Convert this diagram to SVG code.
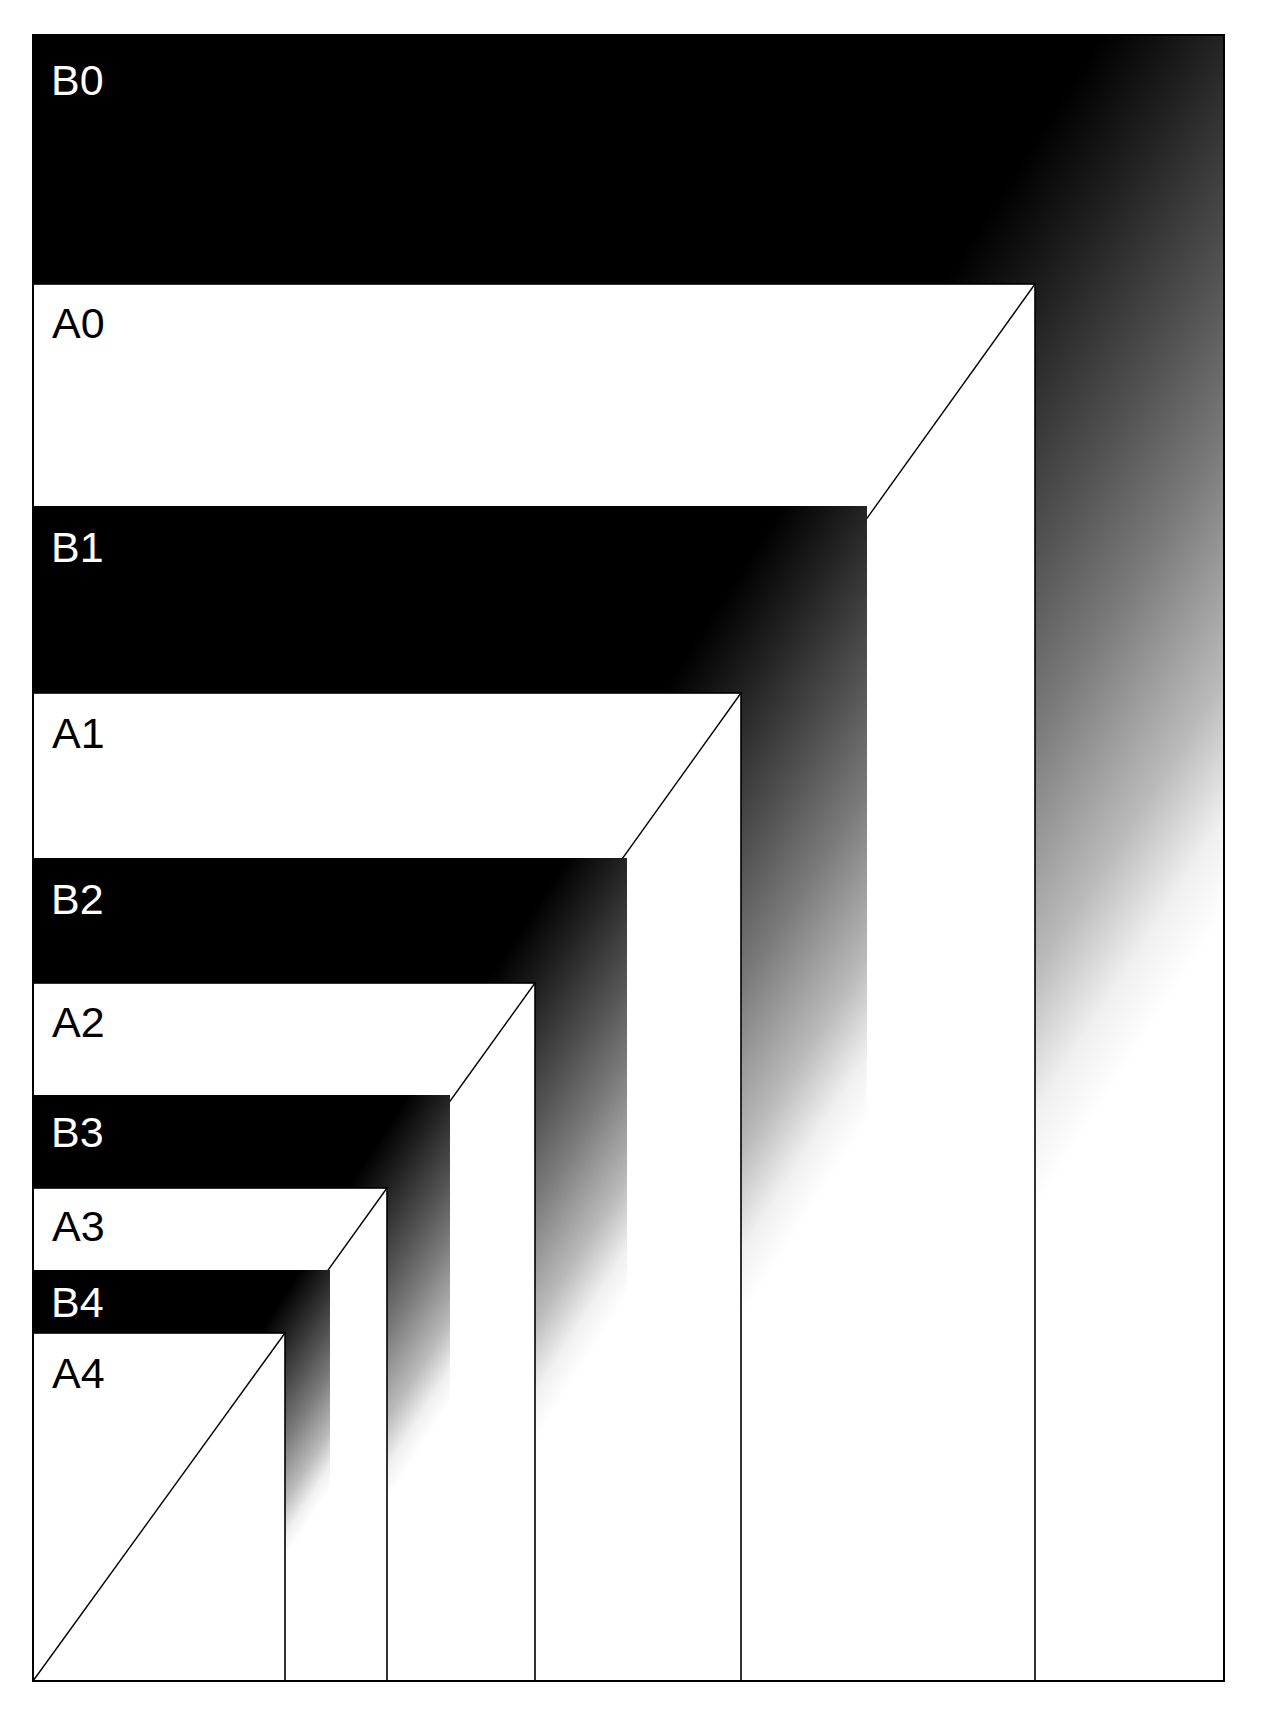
<svg xmlns="http://www.w3.org/2000/svg" width="1280" height="1725" viewBox="0 0 1280 1725">
<style>
.a{fill:#fff;stroke:#000;stroke-width:1.6}
.d{stroke:#000;stroke-width:1.4;fill:none}
.f{stroke:#000;stroke-width:2;fill:none}
.lb{font-family:"Liberation Sans",Arial,sans-serif;font-size:43px;fill:#fff}
.la{font-family:"Liberation Sans",Arial,sans-serif;font-size:43px;fill:#000}
</style>
<defs>
<linearGradient id="gB0" gradientUnits="userSpaceOnUse" x1="33" y1="35" x2="1277.5" y2="832.7">
<stop offset="0" stop-color="#000"/><stop offset="0.609" stop-color="#000"/><stop offset="0.674" stop-color="#212121"/><stop offset="0.761" stop-color="#525252"/><stop offset="0.826" stop-color="#7a7a7a"/><stop offset="0.913" stop-color="#bababa"/><stop offset="0.965" stop-color="#f0f0f0"/><stop offset="1" stop-color="#fff"/>
</linearGradient>
<linearGradient id="gB1" href="#gB0" x1="33" y1="506" x2="904.4" y2="1064.6"/>
<linearGradient id="gB2" href="#gB0" x1="33" y1="858" x2="653.7" y2="1255.9"/>
<linearGradient id="gB3" href="#gB0" x1="33" y1="1095" x2="468.7" y2="1374.3"/>
<linearGradient id="gB4" href="#gB0" x1="33" y1="1270" x2="343.3" y2="1468.9"/>
</defs>
<rect width="1280" height="1725" fill="#fff"/>
<g id="B0">
<rect x="33" y="35" width="1191" height="1646" fill="url(#gB0)" stroke="#000" stroke-width="2"/>
<text class="lb" x="51" y="95">B0</text>
</g>
<g id="A0">
<rect class="a" x="33" y="284" width="1002" height="1397"/>
<line class="d" x1="33" y1="1681" x2="1035" y2="284"/>
<text class="la" x="52" y="338">A0</text>
</g>
<g id="B1">
<rect x="33" y="506" width="834" height="1175" fill="url(#gB1)"/>
<text class="lb" x="51" y="562">B1</text>
</g>
<g id="A1">
<rect class="a" x="33" y="693" width="708" height="988"/>
<line class="d" x1="33" y1="1681" x2="741" y2="693"/>
<text class="la" x="52" y="748">A1</text>
</g>
<g id="B2">
<rect x="33" y="858" width="594" height="823" fill="url(#gB2)"/>
<text class="lb" x="51" y="914">B2</text>
</g>
<g id="A2">
<rect class="a" x="33" y="983" width="502" height="698"/>
<line class="d" x1="33" y1="1681" x2="535" y2="983"/>
<text class="la" x="52" y="1037">A2</text>
</g>
<g id="B3">
<rect x="33" y="1095" width="417" height="586" fill="url(#gB3)"/>
<text class="lb" x="51" y="1147">B3</text>
</g>
<g id="A3">
<rect class="a" x="33" y="1188" width="354" height="493"/>
<line class="d" x1="33" y1="1681" x2="387" y2="1188"/>
<text class="la" x="52" y="1241">A3</text>
</g>
<g id="B4">
<rect x="33" y="1270" width="297" height="411" fill="url(#gB4)"/>
<text class="lb" x="51" y="1317">B4</text>
</g>
<g id="A4">
<rect class="a" x="33" y="1333" width="252" height="348"/>
<line class="d" x1="33" y1="1681" x2="285" y2="1333"/>
<text class="la" x="52" y="1388">A4</text>
</g>
<g id="frame">
<polyline class="f" points="33,35 33,1681 1224,1681 1224,35"/>
</g>
</svg>
